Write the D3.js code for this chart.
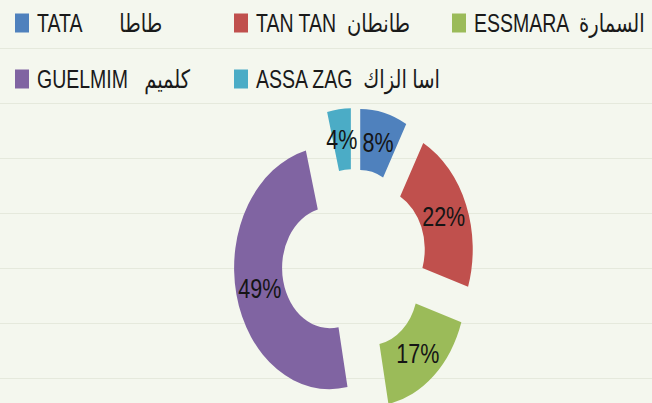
<!DOCTYPE html>
<html>
<head>
<meta charset="utf-8">
<script src="https://cdn.jsdelivr.net/npm/d3@7"></script>
<style>
  html, body { margin: 0; padding: 0; background: #f4f7ee; }
  svg { display: block; }
  text { white-space: pre; }
</style>
</head>
<body>
<svg id="chart" width="652" height="403"></svg>
<script>
// ---- data ----
const categories = ["TATA", "TAN TAN", "ESSMARA", "GUELMIM", "ASSA ZAG"];
const arabicNames = ["طاطا", "طانطان", "السمارة", "كلميم", "اسا الزاك"];
const values = [8, 22, 17, 49, 4];
const legendLabels = [
  "TATA       طاطا",
  "TAN TAN  طانطان",
  "ESSMARA  السمارة",
  "GUELMIM   كلميم",
  "ASSA ZAG  اسا الزاك"
];
const colors = ["#4f81bd", "#c0504d", "#9bbb59", "#8064a2", "#4bacc6"];

// ---- layout ----
const W = 652, H = 403;
const svg = d3.select("#chart");
svg.append("rect").attr("width", W).attr("height", H).attr("fill", "#f4f7ee");

// faint horizontal lines
svg.append("g").selectAll("line")
  .data(d3.range(48.5, H, 55))
  .join("line")
  .attr("x1", 0).attr("x2", W)
  .attr("y1", d => d).attr("y2", d => d)
  .attr("stroke", "#e5e9dc").attr("stroke-width", 1);

// legend
const colX = [15, 234, 452];
const rowBase = [31.5, 87.5];
const legend = svg.append("g");
const items = legend.selectAll("g.item")
  .data(categories.map((c, i) => ({ c, i })))
  .join("g")
  .attr("class", "item");
items.append("rect")
  .attr("x", d => colX[d.i % 3])
  .attr("y", d => rowBase[Math.floor(d.i / 3)] - 18)
  .attr("width", 14).attr("height", 19)
  .attr("fill", d => colors[d.i]);
items.append("text")
  .attr("xml:space", "preserve")
  .attr("transform", d => `translate(${colX[d.i % 3] + 22},${rowBase[Math.floor(d.i / 3)]}) scale(1,1.3)`)
  .attr("font-family", "'Liberation Sans', Arial, 'DejaVu Sans', sans-serif")
  .attr("font-size", 19.5)
  .attr("fill", "#1a1a1a")
  .text(d => legendLabels[d.i]);

// donut
const cx = 354, cy = 261, ky = 1.27;
const outerR = 95.5, innerR = 47.5, explode = 25;
const pie = d3.pie().sort(null).value(d => d);
const arc = d3.arc().innerRadius(innerR).outerRadius(outerR);
const arcs = pie(values);

const g = svg.append("g").attr("transform", `translate(${cx},${cy}) scale(1,${ky})`);
const slices = g.selectAll("g.slice")
  .data(arcs)
  .join("g")
  .attr("class", "slice")
  .attr("transform", d => {
    const a = (d.startAngle + d.endAngle) / 2;
    return `translate(${explode * Math.sin(a)},${-explode * Math.cos(a)})`;
  });
slices.append("path")
  .attr("d", arc)
  .attr("fill", (d, i) => colors[i]);
slices.append("text")
  .attr("x", d => arc.centroid(d)[0])
  .attr("y", d => arc.centroid(d)[1])
  .attr("dy", "0.36em")
  .attr("text-anchor", "middle")
  .attr("font-family", "'Liberation Sans', Arial, sans-serif")
  .attr("font-size", 21.5)
  .attr("fill", "#151515")
  .text(d => d.data + "%");
</script>
</body>
</html>
